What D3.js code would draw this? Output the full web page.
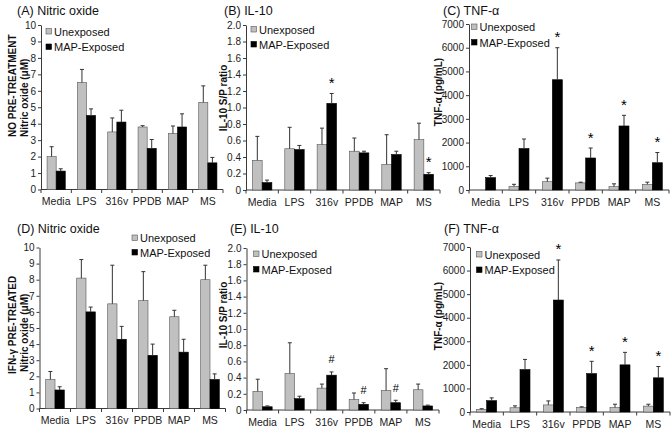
<!DOCTYPE html>
<html><head><meta charset="utf-8">
<script src="https://cdn.jsdelivr.net/npm/d3@7"></script>
<style>body{margin:0;background:#fff}svg{display:block}text{font-family:"Liberation Sans",Arial,sans-serif}</style>
</head><body><svg id="c" width="671" height="432"></svg>
<script>
const categories = ["Media","LPS","316v","PPDB","MAP","MS"];
const seriesNames = ["Unexposed","MAP-Exposed"];
// (A) Nitric oxide, no pre-treatment
const noUnexp    = [2.0, 6.5, 3.5, 3.8, 3.4, 5.3];
const noUnexpErr = [0.6, 0.8, 0.85, 0.08, 0.46, 1.0];
const noMap      = [1.12, 4.5, 4.1, 2.5, 3.8, 1.62];
const noMapErr   = [0.14, 0.4, 0.72, 0.54, 0.8, 0.33];
// (B) IL-10
const il10Unexp    = [0.36, 0.50, 0.55, 0.47, 0.31, 0.61];
const il10UnexpErr = [0.29, 0.26, 0.20, 0.16, 0.36, 0.20];
const il10Map      = [0.09, 0.49, 1.05, 0.45, 0.43, 0.19];
const il10MapErr   = [0.03, 0.05, 0.12, 0.02, 0.04, 0.02];
const il10Sig      = ["", "", "*", "", "", "*"];
// (C) TNF-a
const tnfUnexp    = [0, 150, 350, 300, 140, 240];
const tnfUnexpErr = [0, 90, 150, 30, 120, 90];
const tnfMap      = [520, 1750, 4650, 1350, 2700, 1150];
const tnfMapErr   = [90, 400, 1350, 420, 450, 430];
const tnfSig      = ["", "", "*", "*", "*", "*"];
// (D) Nitric oxide, IFN-g pre-treated
const ifnNoUnexp    = [1.8, 8.1, 6.5, 6.7, 5.7, 8.0];
const ifnNoUnexpErr = [0.5, 1.15, 2.4, 1.8, 0.4, 0.9];
const ifnNoMap      = [1.15, 6.0, 4.3, 3.3, 3.5, 1.8];
const ifnNoMapErr   = [0.2, 0.3, 0.8, 0.7, 0.8, 0.35];
// (E) IL-10
const ifnIl10Unexp    = [0.23, 0.45, 0.27, 0.13, 0.24, 0.25];
const ifnIl10UnexpErr = [0.15, 0.38, 0.05, 0.08, 0.27, 0.07];
const ifnIl10Map      = [0.04, 0.14, 0.43, 0.07, 0.09, 0.05];
const ifnIl10MapErr   = [0.01, 0.03, 0.04, 0.02, 0.03, 0.01];
const ifnIl10Sig      = ["", "", "#", "#", "#", ""];
// (F) TNF-a
const ifnTnfUnexp    = [110, 180, 300, 190, 190, 250];
const ifnTnfUnexpErr = [30, 80, 170, 30, 140, 80];
const ifnTnfMap      = [480, 1800, 4750, 1630, 2000, 1450];
const ifnTnfMapErr   = [120, 430, 1700, 520, 530, 480];
const ifnTnfSig      = ["", "", "*", "*", "*", "*"];

const ticksNO = d3.range(0, 11, 1);
const ticksIL = d3.range(0, 2.01, 0.2);
const ticksTNF = d3.range(0, 7001, 1000);
const fmtIL = d => d === 0 ? "0" : d3.format(".1f")(d);

const svg = d3.select("#c");
const GRAY = "#c0c0c0", AX = "#3a3a3a";

function panel(p) {
  const g = svg.append("g");
  const x = d3.scaleBand().domain(categories).range([p.x0, p.x1]);
  const y = d3.scaleLinear().domain([0, p.max]).range([p.yb, p.yt]);
  const bw = x.bandwidth() * 0.3;

  // y axis
  const ya = g.append("g").attr("transform", `translate(${p.x0},0)`)
    .call(d3.axisLeft(y).tickValues(p.ticks).tickSize(3).tickSizeOuter(0).tickPadding(2).tickFormat(p.fmt || d3.format("d")));
  ya.select(".domain").attr("stroke", AX);
  ya.selectAll(".tick line").attr("stroke", AX);
  ya.selectAll("text").attr("font-size", "10px").attr("fill", "#222");

  // x axis
  const xa = g.append("g").attr("transform", `translate(0,${p.yb})`)
    .call(d3.axisBottom(x).tickSize(0).tickPadding(8.5));
  xa.select(".domain").remove();
  xa.selectAll("text").attr("font-size", "10.5px").attr("fill", "#222");
  g.append("line").attr("x1", p.x0).attr("x2", p.x1).attr("y1", p.yb).attr("y2", p.yb).attr("stroke", AX);
  g.selectAll(".btick").data(d3.range(categories.length + 1)).join("line")
    .attr("x1", i => p.x0 + i * x.step()).attr("x2", i => p.x0 + i * x.step())
    .attr("y1", p.yb).attr("y2", p.yb + 3.5).attr("stroke", AX);

  const series = [
    {v: p.u, e: p.ue, fill: GRAY, off: -bw},
    {v: p.m, e: p.me, fill: "#000", off: 0}
  ];
  series.forEach(s => {
    const d = categories.map((c, i) => ({c, v: s.v[i], e: s.e[i]}));
    g.selectAll(null).data(d.filter(q => q.v > 0)).join("rect")
      .attr("x", q => x(q.c) + x.bandwidth() / 2 + s.off)
      .attr("width", bw)
      .attr("y", q => y(q.v)).attr("height", q => y(0) - y(q.v))
      .attr("fill", s.fill).attr("stroke", s.fill === GRAY ? "#555" : "#000").attr("stroke-width", 0.6);
    const eb = d.filter(q => q.e > 0);
    const cx = q => x(q.c) + x.bandwidth() / 2 + s.off + bw / 2;
    g.selectAll(null).data(eb).join("line")
      .attr("x1", cx).attr("x2", cx).attr("y1", q => y(q.v)).attr("y2", q => y(q.v + q.e))
      .attr("stroke", "#333").attr("stroke-width", 1);
    g.selectAll(null).data(eb).join("line")
      .attr("x1", q => cx(q) - 2).attr("x2", q => cx(q) + 2).attr("y1", q => y(q.v + q.e)).attr("y2", q => y(q.v + q.e))
      .attr("stroke", "#333").attr("stroke-width", 1);
  });

  if (p.sig) {
    const d = categories.map((c, i) => ({c, s: p.sig[i], t: p.m[i] + p.me[i]})).filter(q => q.s);
    g.selectAll(null).data(d).join("text")
      .attr("x", q => x(q.c) + x.bandwidth() / 2 + bw / 2)
      .attr("y", q => y(q.t) - (q.s === "*" ? 5.5 : 8.5))
      .attr("text-anchor", "middle")
      .attr("font-size", q => q.s === "*" ? "15px" : "11px")
      .attr("fill", "#000")
      .text(q => q.s);
  }

  // title
  g.append("text").attr("x", p.tx).attr("y", p.ty).attr("font-size", "12.5px").attr("fill", "#111").text(p.title);

  // legend
  seriesNames.forEach((n, i) => {
    const ly = p.ly + i * p.lgap;
    g.append("rect").attr("x", p.lx).attr("y", ly - 3).attr("width", 5.5).attr("height", 5.5)
      .attr("fill", i === 0 ? GRAY : "#000").attr("stroke", i === 0 ? "#555" : "#000").attr("stroke-width", 0.6);
    g.append("text").attr("x", p.lx + 8).attr("y", ly + 4).attr("font-size", "11px").attr("fill", "#111").text(n);
  });

  // y labels
  p.ylabels.forEach(l => {
    g.append("text").attr("transform", `translate(${l.x},${l.y}) rotate(-90)`)
      .attr("text-anchor", l.anchor).attr("font-size", "10px").attr("font-weight", "bold").attr("fill", "#111").text(l.t);
  });
}

panel({x0: 41, x1: 223, yb: 189.5, yt: 25, max: 10, ticks: ticksNO,
  u: noUnexp, ue: noUnexpErr, m: noMap, me: noMapErr,
  title: "(A) Nitric oxide", tx: 17, ty: 15, lx: 46, ly: 31.5, lgap: 15.5,
  ylabels: [{t: "NO PRE-TREATMENT", x: 16, y: 137, anchor: "start"}, {t: "Nitric oxide (\u03bcM)", x: 28, y: 137, anchor: "start"}]});
panel({x0: 246, x1: 440, yb: 190, yt: 25, max: 2, ticks: ticksIL, fmt: fmtIL,
  u: il10Unexp, ue: il10UnexpErr, m: il10Map, me: il10MapErr, sig: il10Sig,
  title: "(B) IL-10", tx: 224, ty: 15, lx: 251, ly: 29.5, lgap: 15,
  ylabels: [{t: "IL-10 S/P ratio", x: 227, y: 98, anchor: "middle"}]});
panel({x0: 469, x1: 669, yb: 190, yt: 24, max: 7000, ticks: ticksTNF,
  u: tnfUnexp, ue: tnfUnexpErr, m: tnfMap, me: tnfMapErr, sig: tnfSig,
  title: "(C) TNF-\u03b1", tx: 443, ty: 15, lx: 471.5, ly: 27, lgap: 15.5,
  ylabels: [{t: "TNF-\u03b1 (pg/mL)", x: 441.5, y: 92, anchor: "middle"}]});
panel({x0: 39.5, x1: 225.5, yb: 408.5, yt: 247.5, max: 10, ticks: ticksNO,
  u: ifnNoUnexp, ue: ifnNoUnexpErr, m: ifnNoMap, me: ifnNoMapErr,
  title: "(D) Nitric oxide", tx: 17, ty: 233, lx: 132, ly: 238, lgap: 14.5,
  ylabels: [{t: "IFN-\u03b3 PRE-TREATED", x: 16, y: 374, anchor: "start"}, {t: "Nitric oxide (\u03bcM)", x: 28, y: 372, anchor: "start"}]});
panel({x0: 246.5, x1: 439, yb: 410, yt: 248, max: 2, ticks: ticksIL, fmt: fmtIL,
  u: ifnIl10Unexp, ue: ifnIl10UnexpErr, m: ifnIl10Map, me: ifnIl10MapErr, sig: ifnIl10Sig,
  title: "(E) IL-10", tx: 230, ty: 233, lx: 253.5, ly: 254, lgap: 15.5,
  ylabels: [{t: "IL-10 S/P ratio", x: 227, y: 315, anchor: "middle"}]});
panel({x0: 470, x1: 670, yb: 412, yt: 247, max: 7000, ticks: ticksTNF,
  u: ifnTnfUnexp, ue: ifnTnfUnexpErr, m: ifnTnfMap, me: ifnTnfMapErr, sig: ifnTnfSig,
  title: "(F) TNF-\u03b1", tx: 444, ty: 233, lx: 476.5, ly: 254.5, lgap: 15.5,
  ylabels: [{t: "TNF-\u03b1 (pg/mL)", x: 441.5, y: 316, anchor: "middle"}]});
</script></body></html>
